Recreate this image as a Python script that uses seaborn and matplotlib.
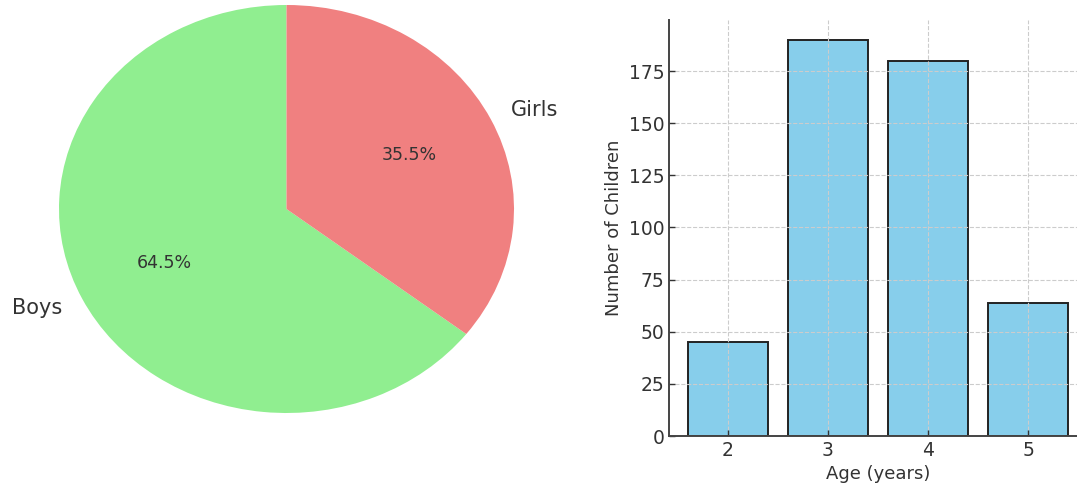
import matplotlib
matplotlib.use("Agg")
import matplotlib.pyplot as plt
import seaborn as sns

# Data
gender_labels = ["Boys", "Girls"]
gender_shares = [64.5, 35.5]
gender_colors = ["lightgreen", "lightcoral"]

ages = [2, 3, 4, 5]
children_counts = [45, 190, 180, 64]

plt.rcParams["font.family"] = ["DejaVu Sans"]
plt.rcParams["text.color"] = "#333333"
plt.rcParams["axes.labelcolor"] = "#333333"
plt.rcParams["xtick.color"] = "#333333"
plt.rcParams["ytick.color"] = "#333333"

fig = plt.figure(figsize=(10.77, 4.86), dpi=100)

# Pie chart
ax1 = fig.add_axes([59 / 1077, 73 / 486, 455 / 1077, 408 / 486])
wedges, texts, autotexts = ax1.pie(
    gender_shares,
    labels=gender_labels,
    colors=gender_colors,
    autopct="%1.1f%%",
    startangle=90,
    textprops={"color": "#333333"},
)
for t in texts:
    t.set_fontsize(15)
for t in autotexts:
    t.set_fontsize(12.5)
ax1.set_aspect("auto")
ax1.set_xlim(-1, 1)
ax1.set_ylim(-1, 1)

# Bar chart
ax2 = fig.add_axes([669 / 1077, 50 / 486, 418 / 1077, 416 / 486])
sns.barplot(
    x=ages,
    y=children_counts,
    color="skyblue",
    saturation=1,
    edgecolor="#222222",
    linewidth=1.4,
    width=0.8,
    ax=ax2,
)
ax2.set_xlim(-0.59, 3.59)
ax2.set_ylim(0, 199.5)
ax2.set_yticks([0, 25, 50, 75, 100, 125, 150, 175])
ax2.set_xlabel("Age (years)", fontsize=13)
ax2.set_ylabel("Number of Children", fontsize=13)
ax2.tick_params(axis="both", labelsize=13.5, direction="in", length=4, width=1)
ax2.grid(True, linestyle="--", color="#cccccc", linewidth=0.8)
for side in ["top", "right"]:
    ax2.spines[side].set_visible(False)
for side in ["left", "bottom"]:
    ax2.spines[side].set_color("#444444")
    ax2.spines[side].set_linewidth(1.4)

fig.savefig("out.png", dpi=100)
